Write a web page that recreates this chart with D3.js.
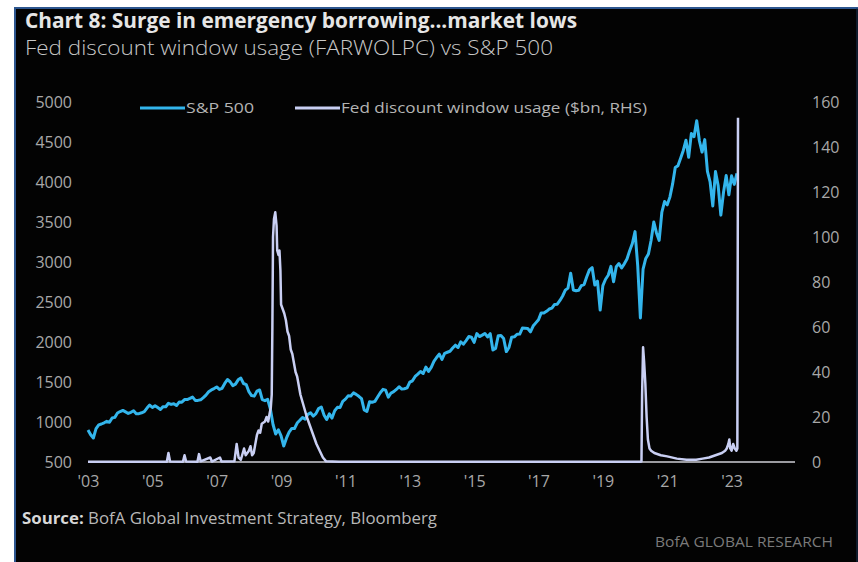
<!DOCTYPE html>
<html>
<head>
<meta charset="utf-8">
<script src="https://cdn.jsdelivr.net/npm/d3@7"></script>
<style>
  html, body { margin: 0; padding: 0; background: #fff; }
  svg { display: block; }
</style>
</head>
<body>
<div id="chart"></div>
<script>
// S&P 500, monthly, Jan 2003 .. Mar 2023
const spxStart = 2003;
const spxValues = [
  900, 841, 800, 917, 964, 975, 990, 1008, 996, 1051, 1058, 1112,
  1131, 1145, 1126, 1107, 1121, 1141, 1102, 1104, 1115, 1130, 1174, 1212,
  1181, 1204, 1181, 1157, 1192, 1191, 1234, 1220, 1229, 1207, 1249, 1248,
  1280, 1281, 1295, 1311, 1270, 1270, 1277, 1304, 1336, 1378, 1401, 1418,
  1438, 1407, 1421, 1482, 1531, 1503, 1455, 1474, 1527, 1549, 1481, 1468,
  1379, 1331, 1323, 1386, 1400, 1280, 1267, 1283, 1165, 969, 850, 903,
  826, 700, 798, 873, 919, 919, 987, 1021, 1057, 1036, 1096, 1115,
  1074, 1104, 1169, 1187, 1089, 1031, 1102, 1049, 1141, 1183, 1181, 1258,
  1286, 1327, 1326, 1364, 1345, 1321, 1292, 1150, 1131, 1253, 1247, 1258,
  1312, 1366, 1408, 1398, 1310, 1362, 1379, 1407, 1441, 1412, 1416, 1426,
  1498, 1515, 1569, 1598, 1631, 1606, 1686, 1633, 1682, 1757, 1806, 1848,
  1783, 1859, 1872, 1884, 1924, 1960, 1931, 2003, 1972, 2018, 2068, 2059,
  1995, 2105, 2068, 2086, 2107, 2063, 2104, 1900, 1920, 2079, 2080, 2044,
  1880, 1932, 2060, 2065, 2097, 2099, 2174, 2171, 2168, 2126, 2199, 2239,
  2279, 2364, 2363, 2384, 2412, 2423, 2470, 2472, 2519, 2575, 2648, 2674,
  2860, 2650, 2641, 2648, 2705, 2718, 2816, 2902, 2930, 2712, 2760, 2400,
  2704, 2784, 2834, 2946, 2752, 2942, 2980, 2926, 2977, 3038, 3141, 3231,
  3380, 2954, 2300, 2912, 3044, 3100, 3271, 3500, 3363, 3270, 3622, 3756,
  3714, 3811, 3973, 4181, 4204, 4298, 4395, 4523, 4308, 4605, 4567, 4766,
  4516, 4374, 4530, 4132, 4000, 3700, 4130, 3955, 3586, 3872, 4080, 3840,
  4077, 3970, 4109
];

// Fed discount window usage ($bn), weekly readings where it is not flat
const dwDates = [
  2003.00, 2005.45, 2005.50, 2005.55, 2005.95, 2006.00, 2006.05, 2006.40, 2006.45, 2006.50,
  2006.80, 2006.85, 2007.10, 2007.15, 2007.55, 2007.62, 2007.68, 2007.75, 2007.85, 2007.90,
  2008.00, 2008.05, 2008.10, 2008.15, 2008.20, 2008.25, 2008.30, 2008.35, 2008.40, 2008.50,
  2008.55, 2008.60, 2008.65, 2008.68, 2008.71, 2008.73, 2008.75, 2008.78, 2008.82, 2008.86,
  2008.88, 2008.92, 2008.95, 2008.98, 2009.00, 2009.05, 2009.10, 2009.15, 2009.20, 2009.25,
  2009.30, 2009.35, 2009.40, 2009.45, 2009.50, 2009.55, 2009.60, 2009.70, 2009.80, 2009.90,
  2010.00, 2010.10, 2010.20, 2010.30, 2010.40, 2010.80, 2020.15, 2020.20, 2020.22, 2020.25,
  2020.28, 2020.32, 2020.36, 2020.40, 2020.45, 2020.50, 2020.60, 2020.80, 2021.00, 2021.30,
  2021.60, 2021.90, 2022.10, 2022.30, 2022.50, 2022.70, 2022.80, 2022.85, 2022.90, 2022.93,
  2022.96, 2023.00, 2023.05, 2023.10, 2023.15, 2023.18, 2023.20
];
const dwValues = [
  0.1, 0.1, 4, 0.2, 0.1, 3, 0.2, 0.1, 3.5, 0.3,
  2, 0.2, 2, 0.2, 0.3, 8, 2, 1, 6, 3,
  5, 7, 3, 4, 8, 12, 14, 13, 17, 18,
  20, 18, 22, 24, 30, 60, 100, 108, 111, 105,
  94, 92, 94, 85, 70, 68, 66, 63, 58, 56,
  50, 48, 44, 40, 38, 34, 30, 25, 20, 16,
  12, 8, 5, 2, 0.3, 0.1, 0.1, 0.2, 30, 51,
  45, 35, 20, 10, 6, 5, 4, 3, 2.5, 1.5,
  1, 1, 1.5, 2, 3, 4, 5, 6, 8, 10,
  6, 5, 8, 6, 5, 6, 153
];

const leftTicks = [500, 1000, 1500, 2000, 2500, 3000, 3500, 4000, 4500, 5000];
const rightTicks = [0, 20, 40, 60, 80, 100, 120, 140, 160];
const yearTicks = [2003, 2005, 2007, 2009, 2011, 2013, 2015, 2017, 2019, 2021, 2023];

const width = 858;
const height = 562;

const svg = d3.select("#chart").append("svg")
    .attr("width", width)
    .attr("height", height);

// black panel with blue edge
svg.append("rect")
    .attr("x", 14).attr("y", 7)
    .attr("width", width - 14).attr("height", height - 7)
    .attr("fill", "#030303");
svg.append("path")
    .attr("d", `M15,${height} V8 H${width}`)
    .attr("fill", "none")
    .attr("stroke", "#2d568f")
    .attr("stroke-width", 2);
svg.append("line")
    .attr("x1", width - 1).attr("x2", width - 1)
    .attr("y1", 8).attr("y2", height)
    .attr("stroke", "#1d3557").attr("stroke-width", 1);

// titles
svg.append("text")
    .attr("x", 25).attr("y", 28)
    .attr("fill", "#e6e6e6")
    .style("font-family", "'Open Sans', sans-serif")
    .style("font-weight", "700")
    .style("font-size", "21px")
    .attr("textLength", 552)
    .attr("lengthAdjust", "spacingAndGlyphs")
    .text("Chart 8: Surge in emergency borrowing...market lows");

svg.append("text")
    .attr("x", 25).attr("y", 55)
    .attr("fill", "#c8c8c8")
    .style("font-family", "'Open Sans', sans-serif")
    .style("font-weight", "300")
    .style("font-size", "20px")
    .attr("textLength", 528)
    .attr("lengthAdjust", "spacingAndGlyphs")
    .text("Fed discount window usage (FARWOLPC) vs S&P 500");

// scales
const x = d3.scaleLinear().domain([2003, 2023.2]).range([88, 738]);
const yL = d3.scaleLinear().domain([500, 5000]).range([462, 102]);
const yR = d3.scaleLinear().domain([0, 160]).range([462, 102]);

const tickFont = g => g
    .style("font-family", "'Open Sans', sans-serif")
    .style("font-size", "16px")
    .attr("fill", "#a8a8a8");

// left axis
svg.append("g")
    .attr("transform", "translate(72,0)")
    .call(d3.axisLeft(yL).tickValues(leftTicks).tickSize(0).tickPadding(0)
        .tickFormat(d3.format("d")))
    .call(g => g.select(".domain").remove())
    .call(g => g.selectAll("text").call(tickFont).attr("dy", "0.35em"));

// right axis
svg.append("g")
    .attr("transform", "translate(812,0)")
    .call(d3.axisRight(yR).tickValues(rightTicks).tickSize(0).tickPadding(0)
        .tickFormat(d3.format("d")))
    .call(g => g.select(".domain").remove())
    .call(g => g.selectAll("text").call(tickFont).attr("dy", "0.35em"));

// bottom axis
svg.append("line")
    .attr("x1", 88).attr("x2", 795)
    .attr("y1", yL(500)).attr("y2", yL(500))
    .attr("stroke", "#cfcfd6")
    .attr("stroke-width", 1.5);

svg.append("g")
    .attr("transform", `translate(0,${yL(500)})`)
    .call(d3.axisBottom(x).tickValues(yearTicks).tickSize(0).tickPadding(14)
        .tickFormat(d => "'" + String(d).slice(2)))
    .call(g => g.select(".domain").remove())
    .call(g => g.selectAll("text").call(tickFont));

// series
const spx = spxValues.map((v, i) => ({ t: spxStart + i / 12, v: v }));
const dw = dwDates.map((t, i) => ({ t: t, v: dwValues[i] }));

svg.append("path")
    .datum(spx)
    .attr("fill", "none")
    .attr("stroke", "#33b5ec")
    .attr("stroke-width", 3)
    .attr("stroke-linejoin", "round")
    .attr("d", d3.line().x(d => x(d.t)).y(d => yL(d.v)));

svg.append("path")
    .datum(dw)
    .attr("fill", "none")
    .attr("stroke", "#c9cff3")
    .attr("stroke-width", 2.5)
    .attr("stroke-linejoin", "round")
    .attr("d", d3.line().x(d => x(d.t)).y(d => yR(d.v)));

// legend
const legend = [
    { label: "S&P 500", color: "#33b5ec", x1: 140, x2: 185, tx: 186, tl: 68 },
    { label: "Fed discount window usage ($bn, RHS)", color: "#c9cff3", x1: 295, x2: 340, tx: 341, tl: 306 }
];
legend.forEach(l => {
    svg.append("line")
        .attr("x1", l.x1).attr("x2", l.x2)
        .attr("y1", 108).attr("y2", 108)
        .attr("stroke", l.color).attr("stroke-width", 3);
    svg.append("text")
        .attr("x", l.tx).attr("y", 113)
        .attr("fill", "#b4b4b4")
        .style("font-family", "'Open Sans', sans-serif")
        .style("font-size", "15px")
        .attr("textLength", l.tl)
        .attr("lengthAdjust", "spacingAndGlyphs")
        .text(l.label);
});

// footer
const source = svg.append("text")
    .attr("x", 22).attr("y", 524)
    .attr("fill", "#b8b8b8")
    .style("font-family", "'Open Sans', sans-serif")
    .style("font-size", "16px")
    .attr("textLength", 415)
    .attr("lengthAdjust", "spacingAndGlyphs");
source.append("tspan").style("font-weight", "700").attr("fill", "#d8d8d8").text("Source:");
source.append("tspan").text("  BofA Global Investment Strategy, Bloomberg");

svg.append("text")
    .attr("x", 833).attr("y", 547)
    .attr("text-anchor", "end")
    .attr("fill", "#7a7a7a")
    .style("font-family", "'Open Sans', sans-serif")
    .style("font-size", "15px")
    .attr("textLength", 178)
    .attr("lengthAdjust", "spacingAndGlyphs")
    .text("BofA GLOBAL RESEARCH");
</script>
</body>
</html>
